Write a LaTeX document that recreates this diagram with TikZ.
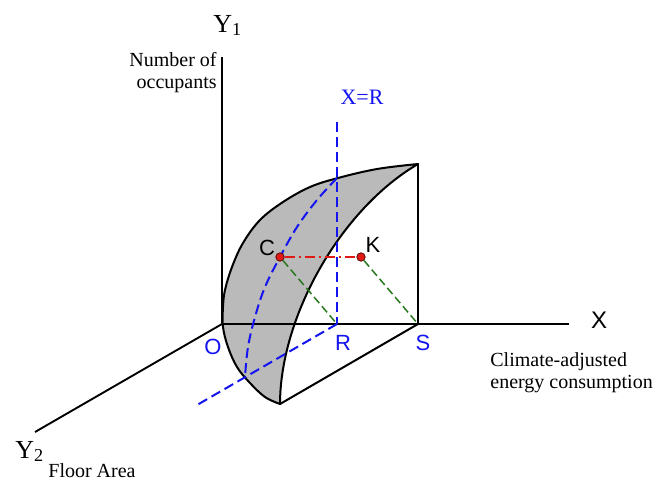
\documentclass[tikz,border=0pt]{standalone}
\usepackage{xcolor}
\usepackage{fontspec}
\setmainfont{Liberation Serif}
\newfontfamily\arialfont{Liberation Sans}
\usepackage{tikz}
\usetikzlibrary{positioning, calc}
\definecolor{myblue}{RGB}{20,20,240}
\definecolor{myred}{RGB}{225,25,20}
\definecolor{mygreen}{RGB}{40,120,30}
\definecolor{mygray}{RGB}{186,186,186}
\tikzset{
  axis/.style={line width=0.95pt,color=black},
  edge/.style={line width=1pt,color=black,line join=round},
  bluedash/.style={line width=1pt,color=myblue,dash pattern=on 5pt off 2.5pt},
  greendash/.style={line width=0.75pt,color=mygreen,dash pattern=on 4pt off 2pt},
  reddash/.style={line width=1pt,color=myred,dash pattern=on 5pt off 2pt on 1pt off 2pt},
  dot/.style={circle,draw=black!60!myred,fill=myred,inner sep=0pt,minimum size=4.2pt,line width=0.4pt},
  ptname/.style={font=\arialfont\fontsize{11}{13}\selectfont,inner sep=0pt},
  axname/.style={font=\fontsize{13}{15}\selectfont,inner sep=0pt},
  caption/.style={font=\fontsize{10}{11}\selectfont,inner sep=0pt}
}

\begin{document}
\begin{tikzpicture}[x=0.5pt, y=-0.5pt]
  \useasboundingbox (0,0) rectangle (653,479);
  % axes and points
  \coordinate (O)    at (222,324);
  \coordinate (R)    at (337,324);
  \coordinate (S)    at (418,324);
  \coordinate (Y1)   at (222,57);
  \coordinate (X)    at (569,324);
  \coordinate (Y2)   at (35,432);
  \coordinate (Stop) at (418,164);
  \coordinate (Sbot) at (280,404);
  \coordinate (Rtop) at (337,122);
  \coordinate (Rbot) at (197,405);

  % shaded surface
  \filldraw[edge, fill=mygray]
    plot[smooth, tension=0.6] coordinates {(418,164) (377,169) (338,178) (310,187)
      (283,202) (260,220) (243,243) (232,267) (225,290) (223,307) (223,327)
      (228,347) (237,367) (250,383) (265,397) (280,404)}
    -- plot[domain=90:0, samples=40] ({418-138*sin(\x)}, {324-160*cos(\x)+80*sin(\x)})
    -- cycle;

  \draw[axis] (O) -- (Y1);
  \draw[axis] (O) -- (X);
  \draw[axis] (O) -- (Y2);
  \draw[edge] (S) -- (Stop);
  \draw[edge] (Sbot) -- (S);

  % plane X=R
  \draw[bluedash] (Rtop) -- (R);
  \draw[bluedash] (R) -- (Rbot);
  \draw[bluedash] plot[smooth, tension=0.6] coordinates {(337,178) (317,200) (297,227)
    (280,257) (265,287) (255,317) (248,347) (245,377)};

  \node[dot] (C) at (280,257) {};
  \node[dot] (K) at (361,257) {};
  \draw[greendash] (C) -- (R);
  \draw[greendash] (K) -- (S);
  \draw[reddash] (C) -- (K);

  % labels
  \node[ptname] (lC) at (267,248) {C};
  \node[ptname] (lK) at (373,245) {K};
  \node[ptname, myblue] (lO) at (213,347) {O};
  \node[ptname, myblue] (lR) at (343,343) {R};
  \node[ptname, myblue] (lS) at (423,343) {S};
  \node[ptname, font=\arialfont\fontsize{12}{14}\selectfont] (lX) at (599,320) {X};
  \node[caption, font=\fontsize{11}{13}\selectfont, myblue] (lXR) at (362,97) {X=R};
  \node[axname, anchor=base west] (lY1) at (213,32) {Y\textsubscript{1}};
  \node[axname, anchor=base west] (lY2) at (15,458) {Y\textsubscript{2}};
  \node[caption, align=right, anchor=north east] (occ) at (217,52) {Number of\\occupants};
  \node[caption, align=left, anchor=north west] (energy) at (490,352) {Climate-adjusted\\energy consumption};
  \node[caption, anchor=base west] (area) at (48,477) {Floor Area};
\end{tikzpicture}
\end{document}
